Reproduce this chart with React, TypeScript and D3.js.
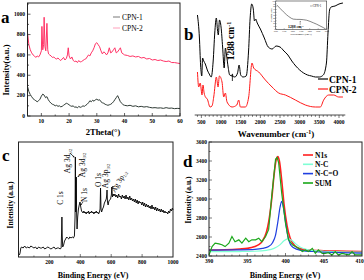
import React from "react";
import * as d3 from "d3";

const FONT = "'Liberation Serif','Times New Roman',serif";

// ---------- a: XRD ----------
const xrdThetaTicks = [10, 20, 30, 40, 50, 60];
const xrdIntensityTicks = [0, 200, 400, 600, 800, 1000];
const xrdCPN1: [number, number][] = [
  [5, 290], [5.5, 240], [6, 210], [6.5, 190], [7, 170], [7.5, 160], [8, 150], [8.5, 140], [9, 150], [9.5, 165],
  [10, 195], [10.5, 215], [11, 205], [11.5, 180], [12, 190], [12.5, 160], [13, 140], [13.5, 125], [14, 115], [14.5, 110],
  [15, 100], [15.5, 105], [16, 95], [16.5, 100], [17, 90], [17.5, 95], [18, 105], [18.5, 115], [19, 125], [19.5, 120],
  [20, 110], [20.5, 100], [21, 95], [21.5, 100], [22, 85], [22.5, 90], [23, 80], [23.5, 95], [24, 85], [24.5, 90],
  [25, 100], [25.5, 95], [26, 105], [26.5, 115], [27, 130], [27.5, 150], [28, 140], [28.5, 155], [29, 145], [29.5, 160],
  [30, 165], [30.5, 155], [31, 160], [31.5, 140], [32, 130], [32.5, 125], [33, 115], [33.5, 110], [34, 105], [34.5, 110],
  [35, 115], [35.5, 125], [36, 140], [36.5, 160], [37, 180], [37.5, 200], [38, 170], [38.5, 140], [39, 125], [39.5, 110],
  [40, 105], [41, 100], [42, 105], [43, 95], [44, 100], [45, 90], [46, 95], [47, 88], [48, 92], [49, 85],
  [50, 80], [51, 82], [52, 78], [53, 80], [54, 75], [55, 82], [56, 76], [57, 78], [58, 72], [59, 75], [60, 73],
];
const xrdCPN2: [number, number][] = [
  [5, 820], [5.5, 700], [6, 650], [6.5, 620], [7, 600], [7.5, 590], [8, 575], [8.5, 590], [9, 580], [9.5, 600],
  [10, 640], [10.2, 880], [10.5, 650], [10.8, 700], [11, 970], [11.3, 680], [11.6, 640], [12, 910], [12.3, 650], [12.6, 610],
  [13, 600], [13.5, 590], [14, 575], [14.5, 580], [15, 565], [15.5, 560], [16, 570], [16.5, 555], [17, 545], [17.5, 560],
  [18, 575], [18.5, 550], [19, 565], [19.4, 600], [19.7, 670], [20, 590], [20.5, 560], [21, 580], [21.5, 545], [22, 535],
  [22.5, 540], [23, 525], [23.5, 545], [24, 530], [24.5, 535], [25, 545], [25.5, 555], [26, 560], [26.5, 580], [27, 600],
  [27.5, 590], [28, 620], [28.5, 640], [29, 670], [29.5, 710], [30, 720], [30.5, 700], [31, 680], [31.5, 640], [32, 610],
  [32.5, 630], [33, 620], [33.5, 600], [34, 620], [34.5, 670], [35, 620], [35.5, 630], [36, 650], [36.5, 670], [37, 620],
  [37.5, 630], [38, 650], [38.5, 670], [39, 620], [39.5, 610], [40, 600], [41, 595], [42, 585], [43, 590], [44, 580],
  [45, 585], [46, 570], [47, 575], [48, 560], [49, 565], [50, 550], [51, 555], [52, 545], [53, 550], [54, 540],
  [55, 535], [56, 540], [57, 525], [58, 525], [59, 520], [60, 515],
];

// ---------- b: FTIR ----------
const ftirTicks = [500, 1000, 1500, 2000, 2500, 3000, 3500, 4000];
const ftirCPN1: [number, number][] = [
  [400, 98], [450, 75], [480, 48], [510, 37], [530, 55], [560, 52], [600, 49], [650, 43], [700, 39], [750, 36],
  [800, 52], [840, 80], [880, 95], [910, 83], [930, 78], [960, 93], [1000, 86], [1040, 66], [1080, 45], [1110, 65],
  [1140, 58], [1180, 46], [1220, 38], [1280, 37], [1350, 36], [1420, 40], [1460, 48], [1500, 38], [1560, 36], [1640, 37],
  [1700, 62], [1740, 95], [1780, 109], [1820, 104], [1850, 92], [1880, 94], [1920, 90], [2000, 84], [2100, 75], [2200, 66],
  [2300, 64], [2400, 67], [2500, 66], [2600, 62], [2700, 58], [2800, 52], [2900, 47], [3000, 43], [3100, 40], [3200, 38],
  [3300, 37], [3400, 36], [3500, 36], [3600, 38], [3680, 50], [3720, 80], [3760, 103], [3800, 106], [3900, 107], [4000, 109], [4100, 110],
];
const ftirCPN2: [number, number][] = [
  [400, 41], [432, 26], [470, 30], [517, 18], [540, 28], [570, 20], [602, 16], [650, 14], [720, 6], [770, 7],
  [814, 16], [881, 36], [924, 26], [958, 37], [1025, 31], [1068, 16], [1110, 20], [1152, 11], [1280, 6], [1400, 8],
  [1449, 13], [1492, 6], [1619, 6], [1703, 16], [1788, 50], [1830, 45], [1958, 41], [2127, 33], [2297, 26], [2466, 20],
  [2636, 18], [2890, 13], [3144, 8], [3398, 6], [3525, 6], [3610, 13], [3737, 18], [3864, 18], [3992, 16], [4100, 16],
];
const insetTicks = [1000, 1100, 1200, 1300, 1400, 1500, 1600];
const insetCPN1: [number, number][] = [
  [1012, 86], [1051, 74], [1090, 62], [1129, 51], [1168, 42], [1207, 36], [1247, 35], [1286, 35], [1325, 34],
  [1365, 32], [1404, 28], [1443, 23], [1482, 18], [1521, 12], [1560, 6], [1588, 1],
];

// ---------- c: XPS survey ----------
const surveyTicks = [200, 400, 600, 800, 1000];
const surveySpectrum: [number, number][] = [
  [6, 2], [10, 4], [15, 9], [20, 10], [30, 9], [40, 11], [50, 9], [60, 10], [70, 9], [80, 11], [90, 10], [100, 9],
  [110, 10], [120, 8], [130, 10], [140, 9], [150, 9], [160, 10], [170, 8], [180, 9], [190, 10], [200, 9], [210, 8],
  [220, 9], [230, 10], [240, 8], [250, 9], [260, 9], [270, 8], [276, 9], [279, 25], [281, 40], [283, 22], [286, 10],
  [292, 12], [298, 16], [305, 18], [312, 20], [318, 19], [325, 18], [332, 20], [340, 19], [348, 20], [355, 19], [362, 21],
  [366, 40], [368, 100], [370, 45], [372, 50], [374, 80], [376, 45], [379, 28], [383, 40], [388, 48], [393, 52], [398, 55],
  [403, 50], [408, 46], [413, 45], [418, 44], [423, 46], [428, 44], [433, 45], [438, 43], [443, 45], [448, 44], [453, 46],
  [458, 43], [463, 45], [468, 44], [473, 46], [478, 44], [483, 45], [488, 43], [493, 45], [498, 44], [503, 46], [508, 44],
  [513, 45], [518, 43], [524, 45], [528, 48], [531, 69], [534, 48], [538, 45], [544, 48], [550, 50], [556, 54], [562, 56],
  [568, 58], [571, 62], [573, 67], [576, 55], [580, 52], [585, 56], [590, 57], [596, 58], [601, 62], [604, 70], [608, 60],
  [613, 63], [618, 61], [624, 63], [630, 60], [636, 62], [642, 59], [648, 63], [654, 60], [660, 61], [666, 58], [672, 62],
  [678, 59], [684, 61], [690, 58], [696, 62], [702, 58], [708, 60], [714, 57], [720, 61], [726, 57], [732, 59], [738, 56],
  [744, 58], [750, 55], [756, 58], [762, 54], [768, 57], [774, 53], [780, 56], [786, 54], [792, 55], [798, 52], [804, 55],
  [810, 51], [816, 54], [822, 50], [828, 53], [834, 50], [840, 52], [846, 49], [852, 51], [858, 48], [864, 52], [870, 48],
  [876, 50], [882, 47], [888, 50], [894, 46], [900, 49], [906, 46], [912, 48], [918, 45], [924, 48], [930, 45], [936, 47],
  [942, 44], [948, 46], [954, 44], [960, 45], [966, 43], [972, 46], [978, 44], [984, 48], [990, 46], [996, 49], [1000, 47],
];

// ---------- d: N 1s ----------
const n1sXTicks = [390, 395, 400, 405, 410];
const n1sYTicks = [2400, 2600, 2800, 3000, 3200, 3400, 3600];
const fitN1s: [number, number][] = [
  [390, 2462], [392, 2466], [394, 2474], [395, 2480], [396, 2500], [396.5, 2520], [397, 2560], [397.5, 2650], [397.8, 2760],
  [398.2, 3000], [398.5, 3250], [398.8, 3420], [399, 3448], [399.2, 3400], [399.5, 3200], [399.8, 2950], [400.2, 2720],
  [400.6, 2590], [401, 2530], [401.5, 2490], [402, 2475], [403, 2462], [405, 2455], [408, 2450], [410, 2446],
];
const fitNC: [number, number][] = [
  [390, 2445], [394, 2447], [396, 2450], [397.5, 2460], [398.5, 2480], [399.3, 2520], [399.8, 2560], [400.3, 2580],
  [400.8, 2565], [401.3, 2530], [402, 2490], [403, 2465], [405, 2450], [410, 2440],
];
const fitNCO: [number, number][] = [
  [390, 2462], [394, 2465], [396, 2470], [397, 2480], [397.8, 2500], [398.3, 2540], [398.7, 2620], [399, 2760],
  [399.3, 2920], [399.5, 2976], [399.7, 2920], [400, 2760], [400.3, 2610], [400.6, 2530], [401, 2490], [402, 2460],
  [404, 2445], [407, 2436], [410, 2430],
];
const fitSUM: [number, number][] = [
  [390, 2411], [390.4, 2499], [390.8, 2535], [391.3, 2528], [391.7, 2518], [392.1, 2499], [392.6, 2535], [393, 2605],
  [393.4, 2550], [393.9, 2570], [394.3, 2535], [394.8, 2588], [395.2, 2550], [395.6, 2570], [396.1, 2570], [396.5, 2588],
  [396.9, 2550], [397.4, 2605], [397.8, 2680], [398.2, 3030], [398.7, 3419], [398.9, 3437], [399.1, 3384], [399.5, 3065],
  [400, 2747], [400.4, 2570], [400.9, 2517], [401.3, 2499], [401.7, 2481], [402.2, 2446], [402.6, 2464], [403, 2446],
  [403.5, 2481], [403.9, 2428], [404.3, 2464], [404.8, 2428], [405.2, 2428], [405.6, 2435], [406.1, 2411], [406.5, 2446],
  [406.9, 2411], [407.4, 2428], [407.8, 2420], [408.3, 2411], [408.7, 2446], [409.1, 2411], [410, 2411],
];

type P = [number, number];
const mkLine = (x: d3.ScaleLinear<number, number>, y: d3.ScaleLinear<number, number>, curve = d3.curveLinear) =>
  d3.line<P>().x((d) => x(d[0])).y((d) => y(d[1])).curve(curve);

export default function App() {
  // panel a
  const xa = d3.scaleLinear().domain([5, 60]).range([27.5, 180]);
  const ya = d3.scaleLinear().domain([0, 1110]).range([116, 3]);
  // panel b
  const xb = d3.scaleLinear().domain([330, 4160]).range([194.7, 345.3]);
  const yb = d3.scaleLinear().domain([0, 111]).range([113, 2]);
  const xi = d3.scaleLinear().domain([1000, 1600]).range([275.7, 326.7]);
  const yi = d3.scaleLinear().domain([0, 100]).range([29.3, 1]);
  // panel c
  const xc = d3.scaleLinear().domain([0, 1000]).range([18.5, 173]);
  const yc = d3.scaleLinear().domain([0, 115]).range([257, 142]);
  // panel d
  const xd = d3.scaleLinear().domain([390, 410]).range([209, 362]);
  const yd = d3.scaleLinear().domain([2400, 3600]).range([256, 142]);

  const bold = { fontWeight: "bold" as const };
  const arrowHead = (x: number, y: number, ang: number, s = 2.2) => {
    const a = (ang * Math.PI) / 180;
    const p1 = [x - s * Math.cos(a - 0.5), y - s * Math.sin(a - 0.5)];
    const p2 = [x - s * Math.cos(a + 0.5), y - s * Math.sin(a + 0.5)];
    return <polygon points={`${x},${y} ${p1[0]},${p1[1]} ${p2[0]},${p2[1]}`} fill="#000" />;
  };

  return (
    <div style={{ position: "absolute", left: 0, top: 0 }}>
      <svg width={364} height={280} style={{ display: "block", background: "#fff" }} fontFamily={FONT}>
        {/* ================= a ================= */}
        <g>
          <path d={mkLine(xa, ya)(xrdCPN2) || ""} fill="none" stroke="#ff3366" strokeWidth={1} />
          <path d={mkLine(xa, ya)(xrdCPN1) || ""} fill="none" stroke="#2e3a34" strokeWidth={1} />
          <rect x={27.5} y={3} width={152.5} height={113} fill="none" stroke="#222" strokeWidth={1} />
          {xa.ticks(11).map((t) => (
            <line key={"am" + t} x1={xa(t)} x2={xa(t)} y1={116} y2={t % 10 === 0 ? 113 : 114.5} stroke="#222" strokeWidth={0.7} />
          ))}
          {xrdThetaTicks.map((t) => (
            <text key={"ax" + t} x={xa(t)} y={123} fontSize={5.5} textAnchor="middle" {...bold}>{t}</text>
          ))}
          {d3.range(0, 1101, 100).map((t) => (
            <line key={"aym" + t} x1={27.5} x2={t % 200 === 0 ? 30.5 : 29} y1={ya(t)} y2={ya(t)} stroke="#222" strokeWidth={0.7} />
          ))}
          {xrdIntensityTicks.map((t) => (
            <text key={"ay" + t} x={25} y={ya(t) + 1.8} fontSize={5.5} textAnchor="end" {...bold}>{t}</text>
          ))}
          <text x={103} y={135} fontSize={8.5} textAnchor="middle" {...bold}>2Theta(°)</text>
          <text transform="translate(9,70) rotate(-90)" fontSize={8.5} textAnchor="middle" {...bold}>Intensity(a.u.)</text>
          <text x={1} y={23} fontSize={17} {...bold}>a</text>
          <line x1={113} x2={120} y1={17} y2={17} stroke="#555" strokeWidth={0.8} />
          <text x={122} y={19.5} fontSize={7.5}>CPN-1</text>
          <line x1={113} x2={120} y1={28} y2={28} stroke="#ff88aa" strokeWidth={0.8} />
          <text x={122} y={30.5} fontSize={7.5}>CPN-2</text>
        </g>

        {/* ================= b ================= */}
        <g>
          <path d={mkLine(xb, yb, d3.curveMonotoneX)(ftirCPN1) || ""} fill="none" stroke="#000" strokeWidth={1} />
          <path d={mkLine(xb, yb, d3.curveMonotoneX)(ftirCPN2) || ""} fill="none" stroke="#ff1a1a" strokeWidth={1} />
          <line x1={194.7} x2={345.3} y1={115} y2={115} stroke="#222" strokeWidth={0.8} />
          {d3.range(400, 4101, 100).map((t) => (
            <line key={"bm" + t} x1={xb(t)} x2={xb(t)} y1={115} y2={t % 500 === 0 ? 118 : 116.8} stroke="#222" strokeWidth={0.6} />
          ))}
          {ftirTicks.map((t) => (
            <text key={"bx" + t} x={xb(t)} y={123.5} fontSize={5.5} textAnchor="middle" {...bold}>{t}</text>
          ))}
          <text x={276} y={137} fontSize={9} textAnchor="middle" {...bold}>
            Wavenumber (cm<tspan fontSize={6} dy={-3.5}>-1</tspan><tspan dy={3.5}>)</tspan>
          </text>
          <text x={184} y={40} fontSize={17} {...bold}>b</text>
          <text transform="translate(234,41) rotate(-90)" fontSize={9.5} textAnchor="middle" {...bold}>
            1288 cm<tspan fontSize={6} dy={-3.5}>-1</tspan>
          </text>
          <line x1={xb(1288)} x2={xb(1288)} y1={81} y2={75} stroke="#000" strokeWidth={0.8} />
          {arrowHead(xb(1288), 73.5, -90, 2.4)}
          <line x1={318} x2={328} y1={79} y2={79} stroke="#000" strokeWidth={1.2} />
          <text x={329} y={82.5} fontSize={9.5} {...bold}>CPN-1</text>
          <line x1={318} x2={328} y1={89} y2={89} stroke="#ff1a1a" strokeWidth={1.2} />
          <text x={329} y={92.5} fontSize={9.5} {...bold}>CPN-2</text>

          {/* inset */}
          <rect x={275.7} y={1} width={51} height={28.3} fill="#fff" stroke="#333" strokeWidth={0.6} />
          <path d={mkLine(xi, yi, d3.curveMonotoneX)(insetCPN1) || ""} fill="none" stroke="#333" strokeWidth={0.6} />
          {insetTicks.map((t) => (
            <g key={"it" + t}>
              <line x1={xi(t)} x2={xi(t)} y1={29.3} y2={28.3} stroke="#333" strokeWidth={0.4} />
              <text x={xi(t)} y={31.6} fontSize={2.2} textAnchor="middle">{t}</text>
            </g>
          ))}
          {d3.range(0, 101, 10).map((t) => (
            <g key={"iy" + t}>
              <line x1={275.7} x2={276.7} y1={yi(t)} y2={yi(t)} stroke="#333" strokeWidth={0.4} />
              <text x={275.2} y={yi(t) + 0.7} fontSize={2} textAnchor="end">{t}</text>
            </g>
          ))}
          <text x={301} y={34.5} fontSize={2.6} textAnchor="middle">Wavenumber (cm-1)</text>
          <text transform="translate(272.3,15) rotate(-90)" fontSize={2.4} textAnchor="middle">Transmittance</text>
          <line x1={310} x2={312.5} y1={6} y2={6} stroke="#333" strokeWidth={0.4} />
          <text x={312.8} y={7} fontSize={3}>CPN-1</text>
          <line x1={xi(1288)} x2={xi(1288)} y1={25} y2={21.8} stroke="#333" strokeWidth={0.4} />
          {arrowHead(xi(1288), 20.8, -90, 1.2)}
          <text x={288} y={28.2} fontSize={3.8} {...bold}>
            1288 cm<tspan fontSize={2.6} dy={-1.5}>-1</tspan>
          </text>
        </g>

        {/* ================= c ================= */}
        <g>
          <path d={mkLine(xc, yc)(surveySpectrum) || ""} fill="none" stroke="#000" strokeWidth={0.9} />
          <rect x={18.5} y={142} width={154.5} height={115} fill="none" stroke="#222" strokeWidth={1} />
          {d3.range(100, 1000, 100).map((t) => (
            <line key={"cm" + t} x1={xc(t)} x2={xc(t)} y1={257} y2={t % 200 === 0 ? 254 : 255.5} stroke="#222" strokeWidth={0.6} />
          ))}
          {surveyTicks.map((t) => (
            <text key={"cx" + t} x={xc(t)} y={263.5} fontSize={5.5} textAnchor="middle" {...bold}>{t}</text>
          ))}
          <text x={93} y={277.5} fontSize={8} textAnchor="middle" {...bold}>Binding Energy (eV)</text>
          <text transform="translate(12.5,205) rotate(-90)" fontSize={7.5} textAnchor="middle" {...bold}>Intensity (a.u.)</text>
          <text x={2} y={161} fontSize={17} {...bold}>c</text>

          <text transform="translate(62.5,198) rotate(-90)" fontSize={7.5} textAnchor="middle">C 1s</text>
          <text transform="translate(70,161) rotate(-90)" fontSize={7.5} textAnchor="middle">
            Ag 3d<tspan fontSize={4.5} dy={1.5}>5/2</tspan>
          </text>
          <line x1={70} x2={73.5} y1={153} y2={156.5} stroke="#000" strokeWidth={0.7} />
          {arrowHead(74.5, 157.5, 45, 2)}
          <text transform="translate(84.5,165) rotate(-90)" fontSize={7.5} textAnchor="middle">
            Ag 3d<tspan fontSize={4.5} dy={1.5}>3/2</tspan>
          </text>
          <line x1={81} x2={78.5} y1={174} y2={176} stroke="#000" strokeWidth={0.7} />
          {arrowHead(77.5, 177, 140, 2)}
          <text transform="translate(86.5,195) rotate(-90)" fontSize={7.5} textAnchor="middle">N 1s</text>
          <line x1={83} x2={81} y1={202} y2={204.5} stroke="#000" strokeWidth={0.7} />
          {arrowHead(80.3, 205.5, 125, 2)}
          <text transform="translate(101,180) rotate(-90)" fontSize={7.5} textAnchor="middle">O 1s</text>
          <text transform="translate(108,176) rotate(-90)" fontSize={7.5} textAnchor="middle">
            Ag 3p<tspan fontSize={4.5} dy={1.5}>3/2</tspan>
          </text>
          <text transform="translate(115,193) rotate(-60)" fontSize={7.5}>
            Ag 3p<tspan fontSize={4.5} dy={1.5}>1/2</tspan>
          </text>
          <line x1={115} x2={112.5} y1={186} y2={187} stroke="#000" strokeWidth={0.7} />
          {arrowHead(111.5, 187.3, 165, 2)}
        </g>

        {/* ================= d ================= */}
        <g>
          <path d={mkLine(xd, yd, d3.curveMonotoneX)(fitN1s) || ""} fill="none" stroke="#ff2020" strokeWidth={1.6} />
          <path d={mkLine(xd, yd, d3.curveMonotoneX)(fitNC) || ""} fill="none" stroke="#7fffd4" strokeWidth={1.2} />
          <path d={mkLine(xd, yd, d3.curveMonotoneX)(fitNCO) || ""} fill="none" stroke="#1f3fe0" strokeWidth={1.2} />
          <path d={mkLine(xd, yd)(fitSUM) || ""} fill="none" stroke="#1aa81a" strokeWidth={1.2} />
          <rect x={209} y={142} width={153} height={114} fill="none" stroke="#222" strokeWidth={1} />
          {d3.range(391, 410, 1).map((t) => (
            <line key={"dm" + t} x1={xd(t)} x2={xd(t)} y1={256} y2={t % 5 === 0 ? 253 : 254.5} stroke="#222" strokeWidth={0.6} />
          ))}
          {n1sXTicks.map((t, i) => (
            <text key={"dx" + t} x={i === n1sXTicks.length - 1 ? 363.8 : xd(t)} y={263} fontSize={5.5}
              textAnchor={i === n1sXTicks.length - 1 ? "end" : "middle"} {...bold}>{t}</text>
          ))}
          {d3.range(2400, 3601, 100).map((t) => (
            <line key={"dym" + t} x1={209} x2={t % 200 === 0 ? 212 : 210.5} y1={yd(t)} y2={yd(t)} stroke="#222" strokeWidth={0.6} />
          ))}
          {n1sYTicks.map((t) => (
            <text key={"dy" + t} x={207} y={yd(t) + 1.8} fontSize={5.5} textAnchor="end" {...bold}>{t}</text>
          ))}
          <text x={285} y={277.5} fontSize={8} textAnchor="middle" {...bold}>Binding Energy (eV)</text>
          <text transform="translate(191,200) rotate(-90)" fontSize={7.5} textAnchor="middle" {...bold}>Intensity (a.u.)</text>
          <text x={183} y={167} fontSize={17} {...bold}>d</text>

          {[
            { name: "N1s", color: "#ff2020", y: 155 },
            { name: "N-C", color: "#7fffd4", y: 164.3 },
            { name: "N-C=O", color: "#1f3fe0", y: 173.6 },
            { name: "SUM", color: "#1aa81a", y: 183 },
          ].map((l) => (
            <g key={l.name}>
              <line x1={303} x2={313} y1={l.y} y2={l.y} stroke={l.color} strokeWidth={1.6} />
              <text x={315} y={l.y + 2.6} fontSize={7.5} {...bold}>{l.name}</text>
            </g>
          ))}
        </g>
      </svg>
    </div>
  );
}
